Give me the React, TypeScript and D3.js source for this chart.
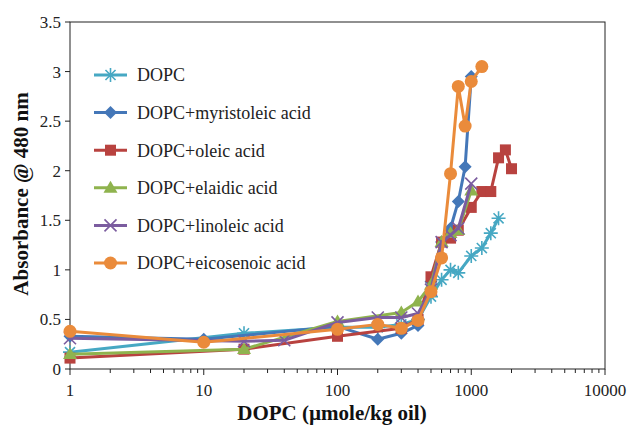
import React, { useEffect, useRef } from 'react';
import * as d3 from 'd3';

// concentrations (µmole/kg oil) and absorbance values
const dopcX = [1, 20, 100, 200, 300, 400, 500, 600, 700, 800, 1000, 1200, 1400, 1600];
const dopcY = [0.17, 0.36, 0.42, 0.42, 0.45, 0.5, 0.73, 0.9, 1.0, 0.97, 1.14, 1.22, 1.37, 1.52];

const myrX = [1, 10, 100, 200, 300, 400, 500, 600, 700, 800, 900, 1000];
const myrY = [0.33, 0.3, 0.43, 0.3, 0.36, 0.44, 0.88, 1.28, 1.42, 1.69, 2.04, 2.95];

const oleX = [1, 20, 100, 300, 400, 500, 600, 700, 800, 1000, 1200, 1400, 1600, 1800, 2000];
const oleY = [0.11, 0.2, 0.33, 0.41, 0.5, 0.93, 1.28, 1.32, 1.4, 1.63, 1.79, 1.79, 2.13, 2.21, 2.02];

const elaX = [1, 20, 100, 300, 400, 500, 600, 700, 800, 1000];
const elaY = [0.15, 0.2, 0.48, 0.57, 0.68, 0.85, 1.28, 1.37, 1.4, 1.8];

const linX = [1, 20, 40, 100, 200, 300, 400, 500, 600, 700, 800, 1000];
const linY = [0.31, 0.28, 0.29, 0.47, 0.52, 0.52, 0.56, 0.8, 1.28, 1.35, 1.42, 1.87];

const eicX = [1, 10, 100, 200, 300, 400, 500, 600, 700, 800, 900, 1000, 1200];
const eicY = [0.38, 0.27, 0.4, 0.45, 0.41, 0.49, 0.78, 1.12, 1.97, 2.85, 2.45, 2.9, 3.05];

const seriesNames = [
  'DOPC',
  'DOPC+myristoleic acid',
  'DOPC+oleic acid',
  'DOPC+elaidic acid',
  'DOPC+linoleic acid',
  'DOPC+eicosenoic acid',
];

const xTicks = [1, 10, 100, 1000, 10000];
const yTicks = [0, 0.5, 1, 1.5, 2, 2.5, 3, 3.5];

const colors = ['#46a8c3', '#4477b8', '#b8423f', '#8fb34e', '#7b5c9f', '#ea8b3b'];
const markers = ['asterisk', 'diamond', 'square', 'triangle', 'cross', 'circle'];

const W = 632;
const H = 425;
const FONT = "'Liberation Serif', 'DejaVu Serif', serif";

function drawMarker(g: any, type: string, x: number, y: number, color: string) {
  if (type === 'asterisk') {
    const r = 7;
    const p = `M${x - r},${y}L${x + r},${y}M${x},${y - r}L${x},${y + r}` +
      `M${x - r * 0.72},${y - r * 0.72}L${x + r * 0.72},${y + r * 0.72}` +
      `M${x - r * 0.72},${y + r * 0.72}L${x + r * 0.72},${y - r * 0.72}`;
    g.append('path').attr('d', p).attr('stroke', color).attr('stroke-width', 1.6).attr('fill', 'none');
  } else if (type === 'cross') {
    const r = 6;
    const p = `M${x - r},${y - r}L${x + r},${y + r}M${x - r},${y + r}L${x + r},${y - r}`;
    g.append('path').attr('d', p).attr('stroke', color).attr('stroke-width', 1.6).attr('fill', 'none');
  } else if (type === 'diamond') {
    const r = 6.5;
    g.append('path').attr('d', `M${x},${y - r}L${x + r},${y}L${x},${y + r}L${x - r},${y}Z`).attr('fill', color);
  } else if (type === 'square') {
    const s = 11;
    g.append('rect').attr('x', x - s / 2).attr('y', y - s / 2).attr('width', s).attr('height', s).attr('fill', color);
  } else if (type === 'triangle') {
    const r = 7;
    g.append('path').attr('d', `M${x},${y - r}L${x + r},${y + r * 0.7}L${x - r},${y + r * 0.7}Z`).attr('fill', color);
  } else {
    g.append('circle').attr('cx', x).attr('cy', y).attr('r', 6.5).attr('fill', color);
  }
}

const App = () => {
  const svgRef = useRef<SVGSVGElement>(null);

  useEffect(() => {
    const svg = d3.select(svgRef.current);
    svg.selectAll('*').remove();

    const x = d3.scaleLog().domain([1, 10000]).range([70, 605]);
    const y = d3.scaleLinear().domain([0, 3.5]).range([369, 22]);

    const allX = [dopcX, myrX, oleX, elaX, linX, eicX];
    const allY = [dopcY, myrY, oleY, elaY, linY, eicY];

    svg.append('rect').attr('width', W).attr('height', H).attr('fill', '#fff');

    // plot frame
    svg.append('rect')
      .attr('x', 70).attr('y', 22)
      .attr('width', 605 - 70).attr('height', 369 - 22)
      .attr('fill', 'none').attr('stroke', '#222').attr('stroke-width', 1);

    // x axis ticks (major + minor)
    const xAxisG = svg.append('g');
    const minor: number[] = [];
    for (let d = 1; d < 10000; d *= 10) for (let k = 2; k < 10; k++) minor.push(d * k);
    xAxisG.selectAll('line.minor').data(minor).join('line')
      .attr('x1', d => x(d)).attr('x2', d => x(d))
      .attr('y1', 369).attr('y2', 373)
      .attr('stroke', '#222').attr('stroke-width', 1);
    xAxisG.selectAll('line.major').data(xTicks).join('line')
      .attr('x1', d => x(d)).attr('x2', d => x(d))
      .attr('y1', 369).attr('y2', 375)
      .attr('stroke', '#222').attr('stroke-width', 1);
    xAxisG.selectAll('text').data(xTicks).join('text')
      .attr('x', d => x(d)).attr('y', 396)
      .attr('text-anchor', 'middle')
      .style('font-family', FONT).style('font-size', '17px').attr('fill', '#222')
      .text(d => String(d));

    // y axis ticks
    const yAxisG = svg.append('g');
    yAxisG.selectAll('line').data(yTicks).join('line')
      .attr('x1', 65).attr('x2', 70)
      .attr('y1', d => y(d)).attr('y2', d => y(d))
      .attr('stroke', '#222').attr('stroke-width', 1);
    yAxisG.selectAll('text').data(yTicks).join('text')
      .attr('x', 61).attr('y', d => y(d)).attr('dy', '0.35em')
      .attr('text-anchor', 'end')
      .style('font-family', FONT).style('font-size', '17px').attr('fill', '#222')
      .text(d => String(d));

    // axis titles
    svg.append('text')
      .attr('x', 332).attr('y', 420)
      .attr('text-anchor', 'middle')
      .style('font-family', FONT).style('font-size', '21px').style('font-weight', 'bold').attr('fill', '#111')
      .text('DOPC (\u00b5mole/kg oil)');
    svg.append('text')
      .attr('transform', 'translate(28,194) rotate(-90)')
      .attr('text-anchor', 'middle')
      .style('font-family', FONT).style('font-size', '21px').style('font-weight', 'bold').attr('fill', '#111')
      .text('Absorbance @ 480 nm');

    // series
    const line = d3.line<[number, number]>().x(d => x(d[0])).y(d => y(d[1]));
    allX.forEach((xs, i) => {
      const pts: [number, number][] = xs.map((v, j) => [v, allY[i][j]]);
      const g = svg.append('g');
      g.append('path')
        .attr('d', line(pts))
        .attr('fill', 'none')
        .attr('stroke', colors[i])
        .attr('stroke-width', 3)
        .attr('stroke-linejoin', 'round');
      pts.forEach(p => drawMarker(g, markers[i], x(p[0]), y(p[1]), colors[i]));
    });

    // legend
    const leg = svg.append('g');
    seriesNames.forEach((name, i) => {
      const ly = 75 + i * 37.6;
      leg.append('line')
        .attr('x1', 94).attr('x2', 127).attr('y1', ly).attr('y2', ly)
        .attr('stroke', colors[i]).attr('stroke-width', 3);
      drawMarker(leg, markers[i], 110.5, ly, colors[i]);
      leg.append('text')
        .attr('x', 137).attr('y', ly).attr('dy', '0.35em')
        .style('font-family', FONT).style('font-size', '18px').attr('fill', '#222')
        .text(name);
    });
  }, []);

  return (
    <svg
      ref={svgRef}
      width={W}
      height={H}
      style={{ position: 'absolute', left: 0, top: 0, display: 'block' }}
    />
  );
};

export default App;
